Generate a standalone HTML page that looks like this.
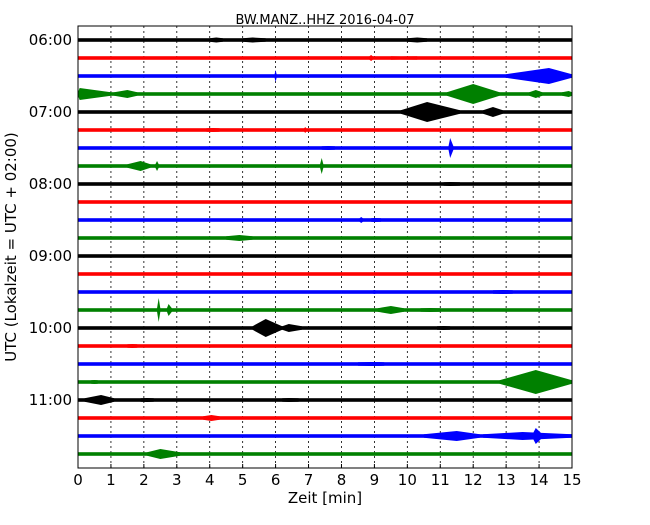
<!DOCTYPE html>
<html><head><meta charset="utf-8"><style>
body{margin:0;background:#fff;}
text{font-family:"DejaVu Sans","Liberation Sans",sans-serif;}
</style></head><body>
<svg id="chart" width="650" height="520" xmlns="http://www.w3.org/2000/svg">
<text x="325" y="24" font-size="13" text-anchor="middle">BW.MANZ..HHZ 2016-04-07</text>
<text x="325" y="503" font-size="15" text-anchor="middle">Zeit  [min]</text>
<text transform="translate(16,247) rotate(-90)" font-size="15" text-anchor="middle">UTC (Lokalzeit = UTC + 02:00)</text>
<g id="grid"></g><g id="traces"></g><g id="axes"></g>
</svg>
<script>
const xTicks=[0,1,2,3,4,5,6,7,8,9,10,11,12,13,14,15];
const yTickLabels=["06:00","07:00","08:00","09:00","10:00","11:00"];
const traceColors=["#000000","#ff0000","#0000ff","#008000"];
const traceCount=24;
// events: [trace, startMin, peakMin, endMin, halfAmplitude]
const events=[
[0,4.0,4.2,4.4,2.5],[0,5.0,5.3,5.7,2.5],[0,10.0,10.3,10.6,2.5],
[1,8.85,8.9,8.95,3],[1,9.5,9.8,10.3,1.5],
[2,5.97,6.0,6.03,6],[2,13.0,14.3,15,8],
[3,0,0.05,1.0,6],[3,1.1,1.5,1.8,4],[3,11.2,12.0,12.8,10],[3,13.7,13.9,14.1,4],[3,14.7,14.9,15,3],
[4,9.8,10.6,11.6,10],[4,12.3,12.6,12.9,5],
[5,3.9,4.1,4.3,2],[5,6.87,6.9,6.93,3],
[6,7.4,7.6,7.8,2],[6,11.25,11.3,11.4,10],
[7,1.5,1.9,2.2,5],[7,2.35,2.4,2.45,5],[7,7.35,7.4,7.45,8],
[8,11.1,11.3,11.6,2],
[10,8.55,8.6,8.65,3],[10,8.9,9.0,9.2,2],
[11,4.5,4.9,5.3,3],
[14,8.97,9.0,9.03,2],[14,12.6,12.9,13.2,2],
[15,2.4,2.45,2.5,12],[15,2.7,2.75,2.85,6],[15,9.1,9.5,9.9,4],[15,10.4,10.7,11.0,2],
[16,5.3,5.7,6.2,9],[16,6.2,6.4,6.8,4],[16,10.9,11.1,11.3,2],
[17,1.5,1.65,1.8,2],
[18,8.5,8.9,9.3,2],
[19,0.4,0.5,0.6,2],[19,12.8,13.9,15,12],
[20,0.2,0.7,1.1,5],[20,1.9,2.1,2.3,2],[20,6.2,6.4,6.7,2],
[21,3.8,4.05,4.3,3],
[22,10.5,11.5,12.2,5],[22,12.3,13.5,15,4],[22,13.8,13.9,14.1,8],
[23,2.1,2.5,3.1,5]
];
const L=78,R=572,T=26,B=468,Y0=40,DY=18;
const xs=m=>L+(R-L)*m/15;
const ys=i=>Y0+DY*i;
const NS="http://www.w3.org/2000/svg";
const grid=document.getElementById('grid'),tr=document.getElementById('traces'),ax=document.getElementById('axes');
function mk(tag,attrs,parent){const e=document.createElementNS(NS,tag);for(const k in attrs)e.setAttribute(k,attrs[k]);parent.appendChild(e);return e;}
xTicks.forEach(t=>{
 if(t>0&&t<15){const g=mk('line',{x1:xs(t),x2:xs(t),y1:T,y2:B,stroke:'#000','stroke-width':0.8,'stroke-dasharray':'2,3'},grid);
 
 }
 const tk=mk('line',{x1:xs(t),x2:xs(t),y1:B,y2:B-4,stroke:'#000'},ax);
 
 
 const tl=mk('text',{x:xs(t),y:B+17,'font-size':15,'text-anchor':'middle'},ax);tl.textContent=t;
 
 
});
for(let i=0;i<traceCount;i++){
 const r=mk('rect',{x:L,y:ys(i)-1.8,width:R-L,height:3.6,fill:traceColors[i%4]},tr);
 
 
}
events.forEach(ev=>{
 const [i,s,p,e,a]=ev,y=ys(i),c=traceColors[i%4];
 const pts=[[xs(s),y-1.8],[xs(p),y-a],[xs(e),y-1.8],[xs(e),y+1.8],[xs(p),y+a],[xs(s),y+1.8]];
 const pg=mk('polygon',{points:pts.map(q=>q.join(',')).join(' '),fill:c},tr);
 
 
});
yTickLabels.forEach((lab,k)=>{
 const y=ys(k*4);
 const t=mk('text',{x:72,y:y+5,'font-size':15,'text-anchor':'end'},ax);t.textContent=lab;
 
 
});
const f=mk('rect',{x:L,y:T,width:R-L,height:B-T,fill:'none',stroke:'#000','stroke-width':1},ax);


</script>
</body></html>
